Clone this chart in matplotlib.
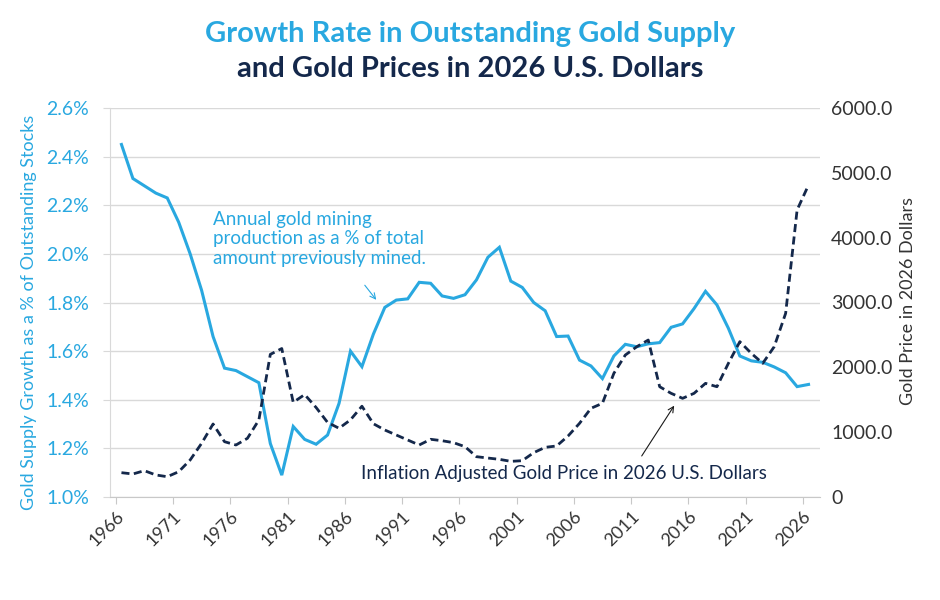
import numpy as np
import matplotlib
matplotlib.use("Agg")
import matplotlib.pyplot as plt

plt.rcParams["font.family"] = ["Lato", "DejaVu Sans"]

BLUE = "#29A8E0"
NAVY = "#14284B"
GREY_TXT = "#333333"
GRID = "#D9D9D9"

# ── Data ─────────────────────────────────────────────────────────────────
years = np.arange(1966, 2027)

supply_growth = [
    2.45, 2.31, 2.28, 2.25, 2.23, 2.13, 2.00, 1.85, 1.66, 1.53,
    1.52, 1.495, 1.47, 1.22, 1.09, 1.29, 1.237, 1.217, 1.255, 1.385,
    1.60, 1.536, 1.67, 1.78, 1.81, 1.815, 1.883, 1.879, 1.827, 1.817,
    1.832, 1.893, 1.986, 2.027, 1.888, 1.862, 1.80, 1.766, 1.66, 1.662,
    1.563, 1.539, 1.487, 1.58, 1.628, 1.618, 1.63, 1.635, 1.698, 1.712,
    1.775, 1.846, 1.79, 1.694, 1.58, 1.56, 1.554, 1.535, 1.511, 1.454,
    1.463,
]

gold_price = [
    375, 355, 406, 340, 313, 390, 571, 828, 1126, 853,
    802, 905, 1188, 2200, 2290, 1460, 1580, 1380, 1150, 1060,
    1190, 1400, 1130, 1033, 956, 879, 802, 890, 868, 838,
    776, 622, 601, 581, 550, 560, 684, 766, 787, 941,
    1136, 1368, 1445, 1908, 2190, 2318, 2421, 1701, 1599, 1522,
    1599, 1753, 1701, 2062, 2396, 2216, 2062, 2318, 2833, 4427,
    4813,
]

tick_years = [1966, 1971, 1976, 1981, 1986, 1991, 1996, 2001, 2006, 2011, 2016, 2021, 2026]
left_ticks = [1.0, 1.2, 1.4, 1.6, 1.8, 2.0, 2.2, 2.4, 2.6]
right_ticks = [0, 1000, 2000, 3000, 4000, 5000, 6000]
right_labels = ["0", "1000.0", "2000.0", "3000.0", "4000.0", "5000.0", "6000.0"]

# ── Plot ─────────────────────────────────────────────────────────────────
fig = plt.figure(figsize=(9.4, 6), dpi=100)
ax = fig.add_axes([110 / 940, 1 - 497 / 600, 710 / 940, 389 / 600])
ax2 = ax.twinx()

ax.plot(years, supply_growth, color=BLUE, lw=2.2, solid_joinstyle="miter", zorder=3)
ax2.plot(years, gold_price, color=NAVY, lw=2.0, linestyle=(0, (2.9, 1.6)), zorder=3)

ax.set_xlim(1965, 2027)
ax.set_ylim(1.0, 2.6)
ax2.set_ylim(0, 6000)

ax.set_xticks(np.array(tick_years) - 0.5)
ax.set_xticklabels([str(y) for y in tick_years], rotation=45, ha="right",
                   rotation_mode="anchor", fontsize=13, color=GREY_TXT)
ax.set_yticks(left_ticks)
ax.set_yticklabels([f"{v:.1f}%" for v in left_ticks], fontsize=14, color=BLUE)
ax2.set_yticks(right_ticks)
ax2.set_yticklabels(right_labels, fontsize=14, color=GREY_TXT)

ax.grid(True, axis="y", color=GRID, lw=1)
ax.set_axisbelow(True)
for sp in ["top", "right"]:
    ax.spines[sp].set_visible(False)
for sp in ["top", "right", "left", "bottom"]:
    ax2.spines[sp].set_visible(False)
ax.spines["left"].set_color(GRID)
ax.spines["bottom"].set_color("#C8C8C8")
ax.tick_params(axis="x", length=5, color="#C8C8C8", pad=3)
ax.tick_params(axis="y", length=5, color=GRID, pad=10)
ax2.tick_params(axis="y", length=0, pad=8)

ax.set_ylabel("Gold Supply Growth as a % of Outstanding Stocks", color=BLUE, fontsize=13)
ax.yaxis.set_label_coords(-0.103, 0.475)
ax2.set_ylabel("Gold Price in 2026 Dollars", color=GREY_TXT, fontsize=13, rotation=90)
ax2.yaxis.set_label_coords(1.112, 0.504)

# annotations
ax.text(1974.0, 2.175, "Annual gold mining\nproduction as a % of total\namount previously mined.",
        color=BLUE, fontsize=13.5, va="top", ha="left", linespacing=1.15)
ax.annotate("", xy=(1988.4, 1.802), xytext=(1987.1, 1.880),
            arrowprops=dict(arrowstyle="->", color=BLUE, lw=0.8))
ax2.text(1986.9, 370, "Inflation Adjusted Gold Price in 2026 U.S. Dollars",
         color=NAVY, fontsize=13.5, va="center", ha="left")
ax2.annotate("", xy=(2014.4, 1445), xytext=(2011.3, 597),
             arrowprops=dict(arrowstyle="->", color="#1A1A1A", lw=0.8))

fig.text(0.5, 1 - 34 / 600, "Growth Rate in Outstanding Gold Supply",
         color=BLUE, fontsize=21, fontweight="bold", ha="center", va="center")
fig.text(0.5, 1 - 69 / 600, "and Gold Prices in 2026 U.S. Dollars",
         color=NAVY, fontsize=21, fontweight="bold", ha="center", va="center")

fig.savefig("out.png", dpi=100)
